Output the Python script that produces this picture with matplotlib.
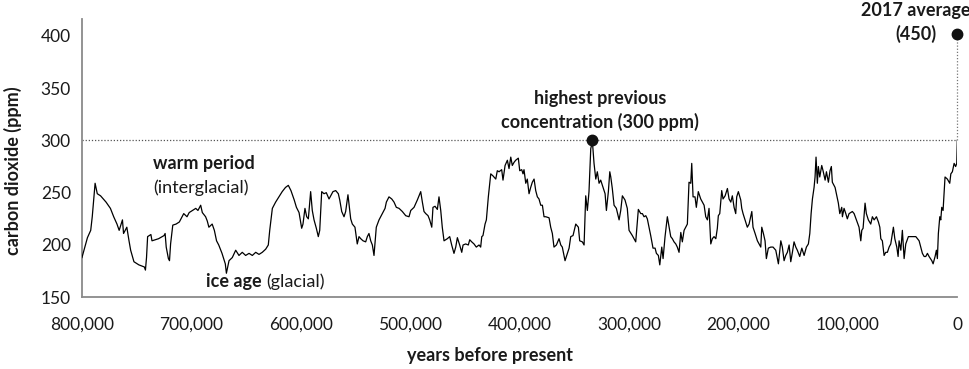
import numpy as np
import matplotlib.pyplot as plt
from matplotlib.ticker import FuncFormatter

plt.rcParams['font.family'] = ['Lato', 'DejaVu Sans']

# thousands of years before present
kyr = [800, 795, 792, 790.6, 788, 786, 783, 778, 774, 771, 768, 766, 763, 762, 759, 757,
       755.5, 752.5, 748, 743, 742, 741, 740, 737, 736, 730, 725, 724, 723, 721, 720, 719,
       717, 714, 711, 707, 704, 702, 699, 696, 694, 691.5, 690, 687, 685.5, 684, 681, 679,
       677, 675, 672, 669, 668, 665.6, 662.6, 659.5, 656.5, 653.5, 650.4, 647.3, 644.3,
       641.2, 638.2, 635.2, 632.1, 629.7, 628.4, 626, 623, 620, 617, 614, 611.4, 609, 606,
       604, 601.6, 599.2, 598, 596.2, 594.6, 593.1, 591, 589.5, 587.9, 585.8, 584, 582.7,
       580.9, 578.8, 576.7, 574.2, 572.7, 570.6, 568.1, 565.7, 564.4, 562.6, 560.5, 559,
       556.9, 555.3, 554.4, 552.9, 550.5, 548.4, 546.8, 545.2, 543.1, 540.7, 539.2, 537.7,
       536.1, 534.6, 533.1, 531, 528.5, 525.5, 523, 521.8, 519.4, 516.9, 514.8, 512.7,
       510.2, 507.2, 504.1, 501.1, 499.5, 496.5, 493.5, 490.4, 488.9, 487.4, 485.8, 483.7,
       482.2, 480.3, 479.2, 477.3, 475.2, 473.7, 472.1, 470.7, 469.1, 466.1, 463.9, 462.1,
       460, 458.4, 456.9, 454.8, 452.9, 451.7, 449.3, 446.9, 445.6, 443.8, 441.7, 439.6,
       437.1, 435.6, 434.6, 433.5, 431.6, 430.4, 428.6, 426.4, 424.3, 421.8, 420.4, 418.8,
       416.4, 415.2, 413.3, 411.2, 409.7, 408.1, 406.7, 405.1, 403.6, 401.2, 399.9, 398.1,
       396.9, 396, 394.4, 393, 391.4, 389.9, 388.4, 386.8, 385.3, 383.8, 382.3, 380.7,
       379.2, 377.7, 376.1, 373.1, 371.6, 370.1, 368.6, 366.4, 364, 362.4, 361, 358.5,
       356.4, 354.8, 353.3, 351.2, 348.7, 346.3, 345.1, 342.7, 341.1, 339.6, 338.1, 336.6,
       335, 333.5, 332, 330.4, 329, 327.4, 325.9, 324.4, 321.9, 320.7, 318.9, 317.6, 316.7,
       315.3, 313.7, 311.6, 309.1, 307.6, 306.1, 303.7, 301.6, 300, 297, 293.9, 291.5,
       289.3, 287.8, 286.3, 284.7, 283.3, 281.7, 280.2, 278.1, 276.2, 275, 273.2, 271.9,
       270.1, 268.9, 267.1, 265, 263.4, 261.9, 260.4, 258.9, 257.3, 255.9, 254.3, 252.7,
       251.3, 249.7, 248.2, 246.7, 245.2, 243.6, 242.7, 241.5, 239.7, 238.5, 236.7, 234.5,
       233, 231.4, 229.9, 228.4, 226.9, 225.3, 223.9, 222.3, 220.7, 219.3, 218.4, 217.1,
       215.3, 214.1, 212.2, 210.1, 208.6, 207, 205.6, 204, 202.5, 201.6, 200.1, 197.9, 197,
       195.8, 194, 191.9, 190.3, 188.8, 187.8, 186.7, 184.8, 182.7, 181.2, 179.6, 178.7,
       177.2, 175.7, 174.5, 172.7, 170.5, 168.4, 165.9, 163.5, 161.3, 159.9, 158.3, 156.8,
       155.3, 153.7, 152.2, 150.7, 149.2, 147.6, 146.2, 144, 142.1, 140, 137.9, 136.1,
       134.8, 133.6, 132.4, 130.9, 130, 129.1, 127.9, 127, 125.7, 123.9, 122.7, 120.8,
       119.6, 117.8, 116.3, 115.1, 114.2, 111.7, 110.5, 108.7, 107.4, 105.6, 105, 103.5,
       101.9, 100.5, 98.9, 95.9, 94.3, 92.2, 89.8, 88.2, 87.3, 86.1, 84.3, 83.1, 81.3, 79.1,
       77.6, 76, 73.9, 72.1, 70.8, 69.9, 68.5, 66.9, 65.4, 63.9, 62.3, 60.8, 59.3, 58.4,
       57.1, 55.3, 54.1, 53.2, 51.6, 50.2, 48.6, 47.1, 44.7, 37.9, 34.9, 31.9, 30.3, 28.8,
       27.3, 25.8, 23.3, 22.1, 20.3, 19.1, 18.2, 17.3, 16, 15.1, 14.2, 13, 11.2, 9.1, 6.9,
       5.9, 4.5, 2.9, 1.5, 0.5, 0]

co2 = [188, 207, 214, 227, 259, 249, 247, 241, 235, 227, 220, 214, 224, 211, 217, 204,
       195, 184, 181, 179, 176, 188, 208, 210, 204, 206, 209, 211, 198, 187, 185, 201,
       219, 220, 222, 230, 227, 231, 233, 235, 233, 238, 231, 227, 223, 217, 220, 214,
       204, 200, 192, 182, 173, 185, 188, 195, 190, 193, 190, 192, 190,
       193, 191, 193, 196, 200, 214, 235, 241, 246, 251, 255, 257, 252, 243,
       236, 231, 216, 220, 235, 227, 225, 251, 233, 224, 216, 208, 214,
       251, 249, 250, 244, 247, 251, 252, 249, 243, 232, 227, 232,
       248, 233, 225, 220, 217, 201, 208, 206, 204, 203, 208, 211,
       204, 200, 190, 217, 224, 230, 235, 241, 246, 244, 241, 236,
       235, 232, 228, 227, 233, 236, 243, 251, 241, 232, 230, 228,
       224, 217, 236, 237, 234, 246, 233, 217, 204, 206, 208, 200,
       192, 198, 207, 200, 193, 200, 201, 200, 205, 203, 201, 198,
       200, 198, 208, 209, 220, 224, 246, 268, 266, 263, 271, 270,
       272, 262, 276, 281, 273, 284, 276, 279, 281, 283, 271, 272,
       268, 272, 259, 263, 249, 255, 260, 263, 252, 246, 244, 238,
       238, 227, 227, 226, 217, 211, 198, 200, 206, 200, 198, 185,
       192, 197, 208, 209, 220, 217, 204, 203, 200, 247, 233, 251,
       292, 299, 278, 263, 270, 259, 262, 257, 249, 233, 251, 270, 265,
       254, 238, 235, 224, 233, 247, 243, 235, 214, 209, 203, 234,
       230, 230, 227, 228, 225, 217, 209, 197, 197, 192, 190, 181,
       198, 187, 208, 227, 217, 208, 206, 203, 201, 198, 193, 212,
       203, 214, 217, 220, 260, 259, 278, 246, 246, 236, 251, 244,
       241, 238, 227, 224, 235, 201, 206, 208, 206, 216, 228, 230,
       252, 244, 247, 254, 244, 241, 247, 236, 230, 246, 251, 243, 235,
       230, 224, 217, 220, 227, 232, 217, 211, 204, 201, 198, 217,
       211, 204, 187, 197, 198, 198, 195, 182, 204, 198, 185, 190,
       193, 200, 184, 193, 203, 198, 195, 189, 197, 190, 198, 201,
       211, 230, 244, 255, 265, 284, 259, 275, 265, 276, 271, 262,
       270, 260, 271, 275, 260, 255, 249, 240, 230, 236, 227, 235,
       230, 225, 230, 232, 230, 224, 217, 204, 214, 216, 240, 230, 224, 220,
       227, 224, 227, 222, 217, 206, 204, 190, 193, 193, 198, 201, 211, 217,
       206, 198, 189, 204, 195, 214, 187, 201, 208, 208, 204, 192, 189, 189,
       192, 189, 185, 182, 189, 195, 187, 211, 227, 224, 236, 233, 265, 263, 259,
       268, 270, 278, 275, 278, 300]

prev_max_kyr, prev_max_ppm = 333.5, 300
now_ppm = 402

years = np.array(kyr) * 1000
fig = plt.figure(figsize=(9.7, 3.69), dpi=100)
ax = fig.add_axes([0.0845, 0.1943, 0.9024, 0.7542])

ax.plot(years, co2, color='black', lw=0.9, zorder=3)

# reference lines
ax.plot([800000, 0], [prev_max_ppm, prev_max_ppm], color='#555555', lw=0.9,
        ls=(0, (1, 1.5)), zorder=2)
ax.plot([0, 0], [prev_max_ppm, now_ppm], color='#777777', lw=0.9,
        ls=(0, (1, 1.5)), zorder=2, clip_on=False)
ax.plot([prev_max_kyr * 1000], [prev_max_ppm], 'o', color='#111111', ms=7.5, zorder=4)
ax.plot([0], [now_ppm], 'o', color='#111111', ms=7.5, zorder=4, clip_on=False)

ax.set_xlim(800000, 0)
ax.set_ylim(150, 416)
ax.set_xticks(np.arange(800000, -1, -100000))
ax.set_yticks([150, 200, 250, 300, 350, 400])
ax.xaxis.set_major_formatter(FuncFormatter(lambda v, p: f'{int(v):,}'))
ax.tick_params(axis='both', length=0, labelsize=12.5, colors='#1a1a1a')
ax.tick_params(axis='x', pad=14)
ax.tick_params(axis='y', pad=8)

for s in ['top', 'right']:
    ax.spines[s].set_visible(False)
for s in ['left', 'bottom']:
    ax.spines[s].set_color('#8a8a8a')
    ax.spines[s].set_linewidth(1.3)

fs = 13
fig.text(490 / 970, 1 - 355 / 369, 'years before present', ha='center', va='center',
         fontsize=fs, fontweight='bold', color='#1a1a1a')
fig.text(13 / 970, 1 - 171 / 369, 'carbon dioxide (ppm)', ha='center', va='center',
         rotation=90, fontsize=fs, fontweight='bold', color='#1a1a1a')

ax.text(735000, 278, 'warm period', fontsize=fs, fontweight='bold', va='center',
        ha='left', color='#1a1a1a')
ax.text(735000, 255, '(interglacial)', fontsize=fs, va='center', ha='left',
        color='#1a1a1a')

t1 = ax.text(686500, 160, 'ice age', fontsize=fs, fontweight='bold', va='baseline',
             ha='left', color='#1a1a1a')
fig.canvas.draw()
bb = t1.get_window_extent().transformed(ax.transData.inverted())
ax.text(bb.x1 - 4000, 160, '(glacial)', fontsize=fs, va='baseline', ha='left',
        color='#1a1a1a')

ax.text(326500, 340, 'highest previous', fontsize=fs, fontweight='bold', ha='center',
        va='center', color='#1a1a1a')
ax.text(326500, 318, 'concentration (300 ppm)', fontsize=fs, fontweight='bold',
        ha='center', va='center', color='#1a1a1a')

ax.text(38000, 424, '2017 average', fontsize=fs, fontweight='bold', ha='center',
        va='center', color='#1a1a1a')
ax.text(38000, 402, '(450)', fontsize=fs, fontweight='bold', ha='center',
        va='center', color='#1a1a1a')

fig.savefig('out.png', dpi=100)
